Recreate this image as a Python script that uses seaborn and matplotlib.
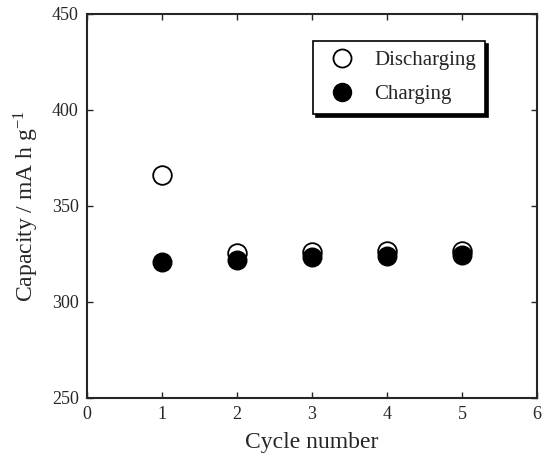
import numpy as np
import pandas as pd
import seaborn as sns
import matplotlib.pyplot as plt
from matplotlib.lines import Line2D

cycles = [1, 2, 3, 4, 5]
discharging = [366, 325.5, 326.2, 326.6, 326.4]
charging = [320.7, 321.8, 323.4, 324.0, 324.3]

df = pd.DataFrame({
    'cycle': cycles * 2,
    'capacity': discharging + charging,
    'mode': ['Discharging'] * 5 + ['Charging'] * 5,
})

sns.set_style('ticks')
plt.rcParams['font.family'] = ['Liberation Serif', 'DejaVu Serif']
plt.rcParams['mathtext.fontset'] = 'stix'

fig = plt.figure(figsize=(5.44, 4.61), dpi=100)
ax = fig.add_axes([87 / 544, 63 / 461, 450 / 544, 384 / 461])

sns.scatterplot(data=df[df['mode'] == 'Discharging'], x='cycle', y='capacity',
                s=180, facecolor='white', edgecolor='black', linewidth=1.3,
                ax=ax, legend=False, zorder=3)
sns.scatterplot(data=df[df['mode'] == 'Charging'], x='cycle', y='capacity',
                s=180, color='black', edgecolor='black', linewidth=1,
                ax=ax, legend=False, zorder=4)

ax.set_xlim(0, 6)
ax.set_ylim(250, 450)
ax.set_xticks(range(0, 7))
ax.set_yticks([250, 300, 350, 400, 450])
ax.tick_params(direction='in', length=4, width=1, labelsize=13,
               top=True, right=True, pad=6)
for sp in ax.spines.values():
    sp.set_linewidth(1.5)

ax.set_xlabel('Cycle number', fontsize=17, labelpad=6)
ax.set_ylabel('Capacity / mA h g$^{\\mathregular{-1}}$', fontsize=17, labelpad=8)

# legend: open / filled circles in a framed box with a dark shadow
handles = [
    Line2D([], [], marker='o', linestyle='none', markersize=13,
           markerfacecolor='white', markeredgecolor='black', markeredgewidth=1.3),
    Line2D([], [], marker='o', linestyle='none', markersize=13,
           markerfacecolor='black', markeredgecolor='black'),
]
leg = ax.legend(handles, ['Discharging', 'Charging'], loc='upper left',
                bbox_to_anchor=(0.502, 0.93), borderaxespad=0, fontsize=15,
                frameon=True, fancybox=False, edgecolor='black', framealpha=1,
                shadow={'color': 'black', 'alpha': 1},
                handlelength=1.9, handletextpad=0.58, labelspacing=0.72,
                borderpad=0.45)
leg.get_frame().set_linewidth(1.2)

fig.savefig('out.png', dpi=100)
